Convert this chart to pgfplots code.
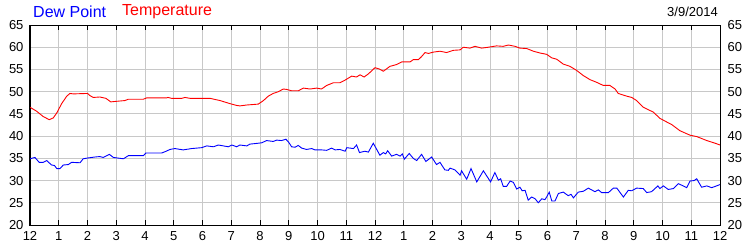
\documentclass[border=0pt]{standalone}
\usepackage{pgfplots}
\pgfplotsset{compat=1.18}
\usepackage{fontspec}
\setmainfont{Liberation Sans}
\definecolor{gridgray}{RGB}{200,200,200}
\begin{document}
\begin{tikzpicture}[x=1pt,y=1pt]
\useasboundingbox (-30,-25) rectangle (720,225);
\begin{axis}[
  at={(0,0)}, anchor=south west,
  scale only axis, width=690pt, height=200pt,
  xmin=0, xmax=24, ymin=20, ymax=65,
  xtick={0,1,...,24},
  xticklabels={12,1,2,3,4,5,6,7,8,9,10,11,12,1,2,3,4,5,6,7,8,9,10,11,12},
  ytick={20,25,...,65},
  grid=major,
  grid style={draw=gridgray, line width=0.8pt},
  axis line style={black, line width=1pt},
  xtick pos=both, tick align=inside,
  major tick length=5pt,
  x tick style={black, line width=0.8pt},
  y tick style={draw=none},
  ytick pos=left,
  /pgf/number format/assume math mode=true,
  tick label style={font=\fontsize{13}{13}\selectfont, text=black},
  yticklabel style={xshift=-3pt},
  xticklabel style={yshift=-3pt},
  axis on top=false,
]
\addplot[red, line width=0.9pt] coordinates {
(0,46.5)(0.23,45.6)(0.46,44.4)(0.67,43.7)(0.81,44.1)(0.93,45.2)(1.10,47.3)(1.28,49.0)(1.39,49.6)(1.51,49.5)
(2.0,49.6)(2.09,49.1)(2.2,48.7)(2.43,48.8)(2.64,48.5)(2.81,47.7)(2.96,47.8)(3.30,48.0)(3.42,48.3)(3.94,48.3)
(4.06,48.6)(4.75,48.6)(4.80,48.7)(4.92,48.5)(5.28,48.5)(5.39,48.7)(5.57,48.5)(6.26,48.5)(6.61,48.0)(6.96,47.3)
(7.19,46.9)(7.30,46.8)(7.54,47.0)(7.94,47.2)(8.12,48.0)(8.29,49.0)(8.46,49.6)(8.64,50.0)(8.81,50.6)(8.93,50.5)
(9.10,50.2)(9.33,50.2)(9.51,50.8)(9.74,50.6)(9.97,50.8)(10.14,50.6)(10.32,51.4)(10.55,52.0)(10.78,52.0)(10.96,52.6)
(11.19,53.5)(11.36,53.3)(11.48,53.8)(11.62,53.3)(11.77,54.0)(12.0,55.4)(12.15,55.1)(12.29,54.6)(12.52,55.7)(12.75,56.1)
(12.93,56.7)(13.22,56.7)(13.33,57.2)(13.51,57.2)(13.62,57.9)(13.74,58.8)(13.86,58.6)(14.03,58.9)(14.26,59.1)(14.49,58.8)
(14.72,59.3)(14.96,59.4)(15.07,60.0)(15.30,59.8)(15.48,60.2)(15.71,59.8)(15.94,60.0)(16.23,60.3)(16.46,60.2)(16.64,60.5)
(16.87,60.2)(17.04,59.8)(17.28,59.7)(17.51,59.1)(17.74,58.7)(17.97,58.4)(18.15,57.6)(18.32,57.3)(18.55,56.2)(18.78,55.7)
(19.01,54.8)(19.25,53.6)(19.48,52.7)(19.71,52.1)(19.94,51.4)(20.17,51.4)(20.35,50.6)(20.46,49.6)(20.75,49.0)(20.93,48.7)
(21.1,48.0)(21.33,46.5)(21.68,45.4)(21.91,44.0)(22.14,43.2)(22.32,42.6)(22.61,41.2)(22.96,40.2)(23.19,39.9)(23.54,39.0)
(23.83,38.4)(24,38.0)
};
\addplot[blue, line width=0.9pt] coordinates {
(0,34.9)(0.17,35.2)(0.32,34.1)(0.46,34.1)(0.58,34.5)(0.75,33.5)(0.85,33.4)(0.93,32.7)(1.04,32.7)(1.16,33.5)
(1.33,33.6)(1.45,34.1)(1.74,34.0)(1.85,34.9)(2.03,35.1)(2.26,35.3)(2.43,35.4)(2.55,35.2)(2.76,35.9)(2.90,35.2)
(3.25,34.9)(3.42,35.6)(3.94,35.6)(4.03,36.2)(4.58,36.2)(4.70,36.5)(4.87,37.0)(5.04,37.2)(5.33,36.9)(5.62,37.2)
(5.97,37.4)(6.15,37.8)(6.38,37.6)(6.55,38.0)(6.90,37.6)(7.02,38.0)(7.19,37.6)(7.30,38.0)(7.54,37.8)(7.65,38.2)
(7.94,38.4)(8.06,38.5)(8.23,39.0)(8.46,38.8)(8.58,39.1)(8.75,39.0)(8.90,39.3)(8.99,38.7)(9.10,37.6)(9.22,37.5)
(9.33,37.9)(9.45,37.3)(9.62,37.0)(9.80,37.2)(9.91,36.9)(10.14,36.9)(10.32,36.8)(10.49,37.3)(10.61,36.9)(10.78,37.0)
(10.96,36.6)(11.02,37.4)(11.25,37.2)(11.36,38.0)(11.46,36.3)(11.65,36.6)(11.77,36.4)(11.94,38.4)(12.06,37.0)(12.17,35.7)
(12.29,36.3)(12.37,36.0)(12.44,36.7)(12.58,35.5)(12.75,35.9)(12.87,35.5)(12.95,36.0)(13.02,34.8)(13.19,36.1)(13.33,35.0)
(13.45,34.5)(13.62,35.9)(13.77,34.3)(13.97,35.3)(14.14,33.6)(14.26,34.1)(14.43,32.4)(14.55,32.3)(14.61,32.8)(14.78,32.4)
(14.96,31.2)(15.01,32.2)(15.19,30.3)(15.34,32.7)(15.54,29.7)(15.77,32.2)(16.02,29.7)(16.17,31.8)(16.29,30.1)(16.37,30.4)
(16.46,28.7)(16.58,28.7)(16.70,29.9)(16.81,29.6)(16.93,28.1)(17.04,28.5)(17.12,27.7)(17.22,27.8)(17.33,25.6)(17.45,26.3)
(17.57,25.9)(17.68,25.0)(17.80,25.9)(17.91,25.7)(17.97,26.3)(18.06,27.4)(18.15,25.4)(18.26,25.4)(18.38,27.1)(18.55,27.4)
(18.72,26.6)(18.82,26.9)(18.90,26.1)(19.07,27.4)(19.25,27.6)(19.42,28.3)(19.65,27.5)(19.77,27.9)(19.88,27.3)(20.12,27.3)
(20.29,28.3)(20.41,28.3)(20.64,26.3)(20.81,27.8)(20.93,27.7)(21.1,28.3)(21.33,28.2)(21.45,27.3)(21.62,27.5)(21.84,28.8)
(21.91,28.2)(22.03,28.8)(22.20,28.0)(22.38,28.2)(22.55,29.3)(22.72,28.8)(22.84,28.4)(22.96,29.9)(23.1,30.0)(23.19,30.4)
(23.36,28.5)(23.54,28.8)(23.71,28.4)(23.88,28.8)(24,29.1)
};
\end{axis}
\begin{axis}[
  at={(0,0)}, anchor=south west,
  scale only axis, width=690pt, height=200pt,
  xmin=0, xmax=24, ymin=20, ymax=65,
  hide x axis, axis y line*=right,
  axis line style={draw=none},
  ytick={20,25,...,65}, y tick style={draw=none},
  /pgf/number format/assume math mode=true,
  tick label style={font=\fontsize{13}{13}\selectfont, text=black},
  yticklabel style={xshift=4pt},
]
\end{axis}
\node[anchor=west, text=blue, font=\fontsize{16}{16}\selectfont, inner sep=0pt] at (3,213) {Dew Point};
\node[anchor=west, text=red, font=\fontsize{16}{16}\selectfont, inner sep=0pt] at (92,213) {Temperature};
\node[anchor=east, text=black, font=\fontsize{13}{13}\selectfont, inner sep=0pt] at (688,213) {3/9/2014};
\end{tikzpicture}
\end{document}
